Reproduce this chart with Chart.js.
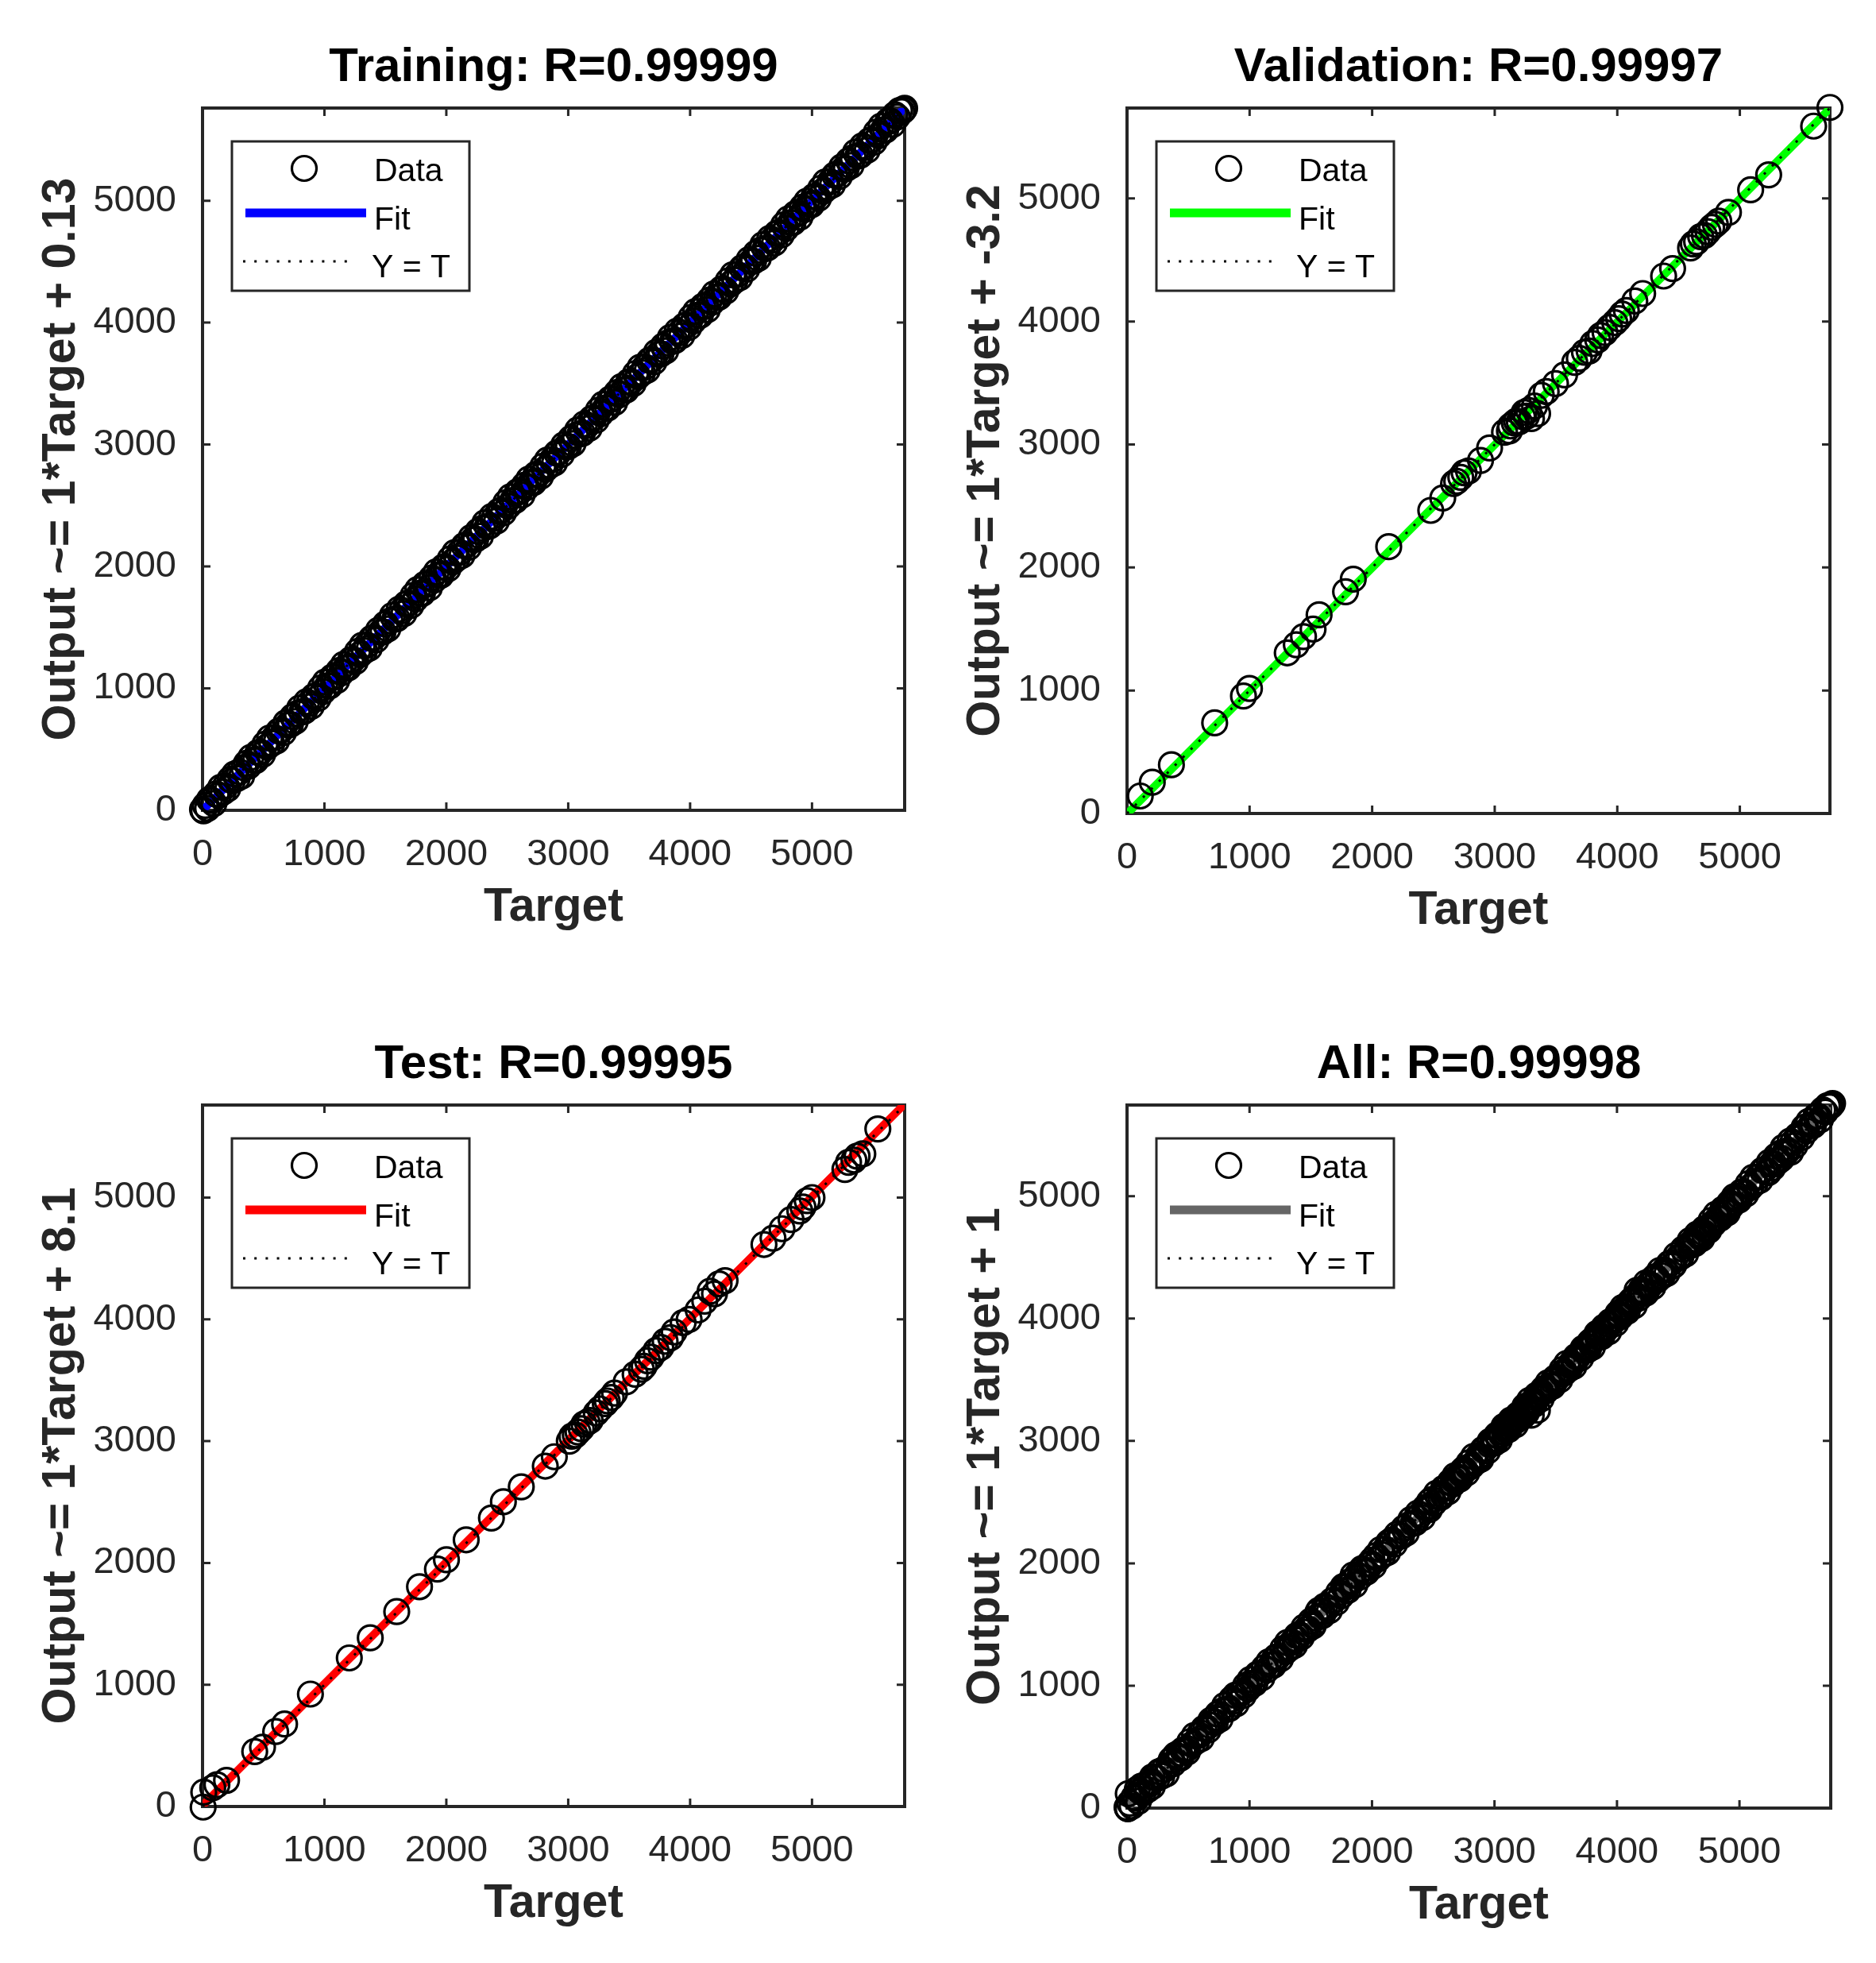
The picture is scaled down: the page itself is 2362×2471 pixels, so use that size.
<!DOCTYPE html>
<html>
<head>
<meta charset="utf-8">
<script src="https://cdn.jsdelivr.net/npm/chart.js@4.4.1/dist/chart.umd.min.js"></script>
<style>
html, body { margin: 0; padding: 0; background: #ffffff; overflow: hidden; width: 2362px; height: 2471px; }
canvas { position: absolute; }
</style>
</head>
<body>
<canvas id="c0"></canvas>
<canvas id="c1"></canvas>
<canvas id="c2"></canvas>
<canvas id="c3"></canvas>
<script>
// ---------------- DATA ----------------
const tickValues = [0, 1000, 2000, 3000, 4000, 5000];
const legendLabels = ['Data', 'Fit', 'Y = T'];
const panelTitles = ['Training: R=0.99999', 'Validation: R=0.99997', 'Test: R=0.99995', 'All: R=0.99998'];
const yAxisTitles = ['Output ~= 1*Target + 0.13', 'Output ~= 1*Target + -3.2', 'Output ~= 1*Target + 8.1', 'Output ~= 1*Target + 1'];
const xAxisTitle = 'Target';
const fitColors = ['#0000ff', '#00ff00', '#ff0000', '#666666'];
const axisMax = [5760, 5735, 5760, 5745];
const fitStartY = [0.13, -3.2, 8.1, 1];
const fitEndY = [5760.13, 5731.8, 5768.1, 5746];

// [target, output] pairs read/
const trainPairs = [
  [0,6],[8,-4],[22,40],[41,16],[57,88],[76,80],[93,56],[112,134],[131,123],[149,189],
  [170,151],[188,199],[207,177],[226,253],[245,242],[263,298],[284,262],[302,316],[321,280],[340,349],
  [360,385],[378,363],[397,435],[418,412],[436,408],[455,474],[474,476],[493,459],[512,542],[531,520],
  [550,593],[569,549],[589,596],[607,569],[626,650],[645,658],[664,638],[684,717],[702,701],[721,704],
  [740,768],[760,728],[778,794],[797,838],[816,807],[836,813],[854,890],[873,876],[892,853],[912,933],
  [930,940],[949,920],[968,1002],[988,974],[1006,1051],[1025,1020],[1044,1020],[1064,1093],[1082,1094],[1101,1065],
  [1120,1146],[1140,1128],[1158,1196],[1177,1171],[1196,1168],[1216,1235],[1234,1236],[1253,1219],[1272,1302],[1292,1278],
  [1310,1353],[1329,1309],[1348,1355],[1368,1330],[1386,1410],[1405,1418],[1424,1398],[1444,1477],[1462,1461],[1481,1464],
  [1500,1528],[1520,1488],[1538,1554],[1557,1598],[1576,1567],[1596,1573],[1614,1650],[1633,1636],[1652,1613],[1672,1693],
  [1690,1700],[1709,1680],[1728,1762],[1748,1734],[1766,1811],[1785,1780],[1804,1780],[1824,1853],[1842,1854],[1861,1825],
  [1880,1906],[1900,1888],[1918,1956],[1937,1931],[1956,1928],[1976,1995],[1994,1996],[2013,1979],[2032,2062],[2052,2038],
  [2070,2113],[2089,2069],[2108,2115],[2128,2090],[2146,2170],[2165,2178],[2184,2158],[2204,2237],[2222,2221],[2241,2224],
  [2260,2288],[2280,2248],[2298,2314],[2317,2358],[2336,2327],[2356,2333],[2374,2410],[2393,2396],[2412,2373],[2432,2453],
  [2450,2460],[2469,2440],[2488,2522],[2508,2494],[2526,2571],[2545,2540],[2564,2540],[2584,2613],[2602,2614],[2621,2585],
  [2640,2666],[2660,2648],[2678,2716],[2697,2691],[2716,2688],[2736,2755],[2754,2756],[2773,2739],[2792,2822],[2812,2798],
  [2830,2873],[2849,2829],[2868,2875],[2888,2850],[2906,2930],[2925,2938],[2944,2918],[2964,2997],[2982,2981],[3001,2984],
  [3020,3048],[3040,3008],[3058,3074],[3077,3118],[3096,3087],[3116,3093],[3134,3170],[3153,3156],[3172,3133],[3192,3213],
  [3210,3220],[3229,3200],[3248,3282],[3268,3254],[3286,3331],[3305,3300],[3324,3300],[3344,3373],[3362,3374],[3381,3345],
  [3400,3426],[3420,3408],[3438,3476],[3457,3451],[3476,3448],[3496,3515],[3514,3516],[3533,3499],[3552,3582],[3572,3558],
  [3590,3633],[3609,3589],[3628,3635],[3648,3610],[3666,3690],[3685,3698],[3704,3678],[3724,3757],[3742,3741],[3761,3744],
  [3780,3808],[3800,3768],[3818,3834],[3837,3878],[3856,3847],[3876,3853],[3894,3930],[3913,3916],[3932,3893],[3952,3973],
  [3970,3980],[3989,3960],[4008,4042],[4028,4014],[4046,4091],[4065,4060],[4084,4060],[4104,4133],[4122,4134],[4141,4105],
  [4160,4186],[4180,4168],[4198,4236],[4217,4211],[4236,4208],[4256,4275],[4274,4276],[4293,4259],[4312,4342],[4332,4318],
  [4350,4393],[4369,4349],[4388,4395],[4408,4370],[4426,4450],[4445,4458],[4464,4438],[4484,4517],[4502,4501],[4521,4504],
  [4540,4568],[4560,4528],[4578,4594],[4597,4638],[4616,4607],[4636,4613],[4654,4690],[4673,4676],[4692,4653],[4712,4733],
  [4730,4740],[4749,4720],[4768,4802],[4788,4774],[4806,4851],[4825,4820],[4844,4820],[4864,4893],[4882,4894],[4901,4865],
  [4920,4946],[4940,4928],[4958,4996],[4977,4971],[4996,4968],[5016,5035],[5034,5036],[5053,5019],[5072,5102],[5092,5078],
  [5110,5153],[5129,5109],[5148,5155],[5168,5130],[5186,5210],[5205,5218],[5224,5198],[5244,5277],[5262,5261],[5281,5264],
  [5300,5328],[5320,5288],[5338,5354],[5357,5398],[5376,5367],[5396,5373],[5414,5450],[5433,5436],[5452,5413],[5472,5493],
  [5490,5500],[5509,5480],[5528,5562],[5548,5534],[5566,5611],[5585,5580],[5604,5580],[5624,5653],[5642,5654],[5661,5625],
  [5680,5706],[5700,5688],[5718,5740],[5737,5731],[5752,5745],[5760,5758]
];

const valPairs = [
  [108,142],[206,254],[362,396],[715,737],[950,955],[999,1016],[1307,1306],[1381,1372],[1440,1438],[1518,1499],
  [1567,1615],[1783,1803],[1846,1905],[2135,2169],[2478,2464],[2576,2565],[2664,2682],[2690,2700],[2723,2733],[2750,2770],
  [2786,2784],[2884,2870],[2958,2972],[3080,3099],[3120,3110],[3129,3150],[3160,3175],[3178,3190],[3200,3185],[3227,3226],
  [3240,3260],[3260,3230],[3276,3277],[3325,3312],[3350,3251],[3300,3211],[3380,3400],[3420,3430],[3496,3495],[3570,3566],
  [3653,3668],[3690,3700],[3732,3749],[3770,3760],[3800,3820],[3840,3850],[3864,3886],[3900,3910],[3937,3952],[3980,3990],
  [4011,4023],[4040,4060],[4074,4089],[4143,4166],[4207,4227],[4378,4369],[4451,4430],[4598,4597],[4620,4630],[4647,4648],
  [4680,4690],[4711,4699],[4740,4730],[4770,4765],[4800,4790],[4828,4816],[4907,4887],[5088,5070],[5235,5192],[5602,5588],
  [5735,5740]
];

const testPairs = [
  [5,-5],[10,118],[84,154],[118,179],[197,215],[428,451],[492,487],[600,615],[673,677],[885,923],
  [1204,1220],[1376,1385],[1593,1600],[1780,1805],[1927,1949],[2001,2026],[2163,2190],[2370,2369],[2468,2502],[2615,2625],
  [2812,2795],[2886,2872],[3009,3000],[3030,3040],[3058,3051],[3080,3075],[3107,3102],[3130,3140],[3156,3154],[3180,3170],
  [3230,3231],[3260,3265],[3304,3308],[3320,3330],[3353,3359],[3380,3395],[3476,3487],[3549,3549],[3600,3590],[3623,3615],
  [3650,3660],[3680,3690],[3721,3743],[3760,3770],[3795,3820],[3840,3850],[3869,3897],[3943,3974],[3992,4000],[4066,4077],
  [4120,4150],[4164,4231],[4200,4210],[4238,4292],[4287,4318],[4606,4615],[4680,4667],[4754,4744],[4828,4820],[4900,4890],
  [4926,4923],[4960,4975],[5000,5000],[5270,5231],[5300,5290],[5344,5308],[5370,5340],[5417,5359],[5540,5564]
];

const allPairs = trainPairs.concat(valPairs, testPairs);
const panelPairs = [trainPairs, valPairs, testPairs, allPairs];

// ---------------- LAYOUT ----------------
const FONT = '"Liberation Sans", Arial, Helvetica, sans-serif';
const AXIS_COLOR = '#262626';
const Y_AXIS_W = 255, TOP_H = 136, X_AXIS_H = 216, RIGHT_PAD = 45;
const areas = [
  { l: 255, t: 136, r: 1139, b: 1020 },
  { l: 1419, t: 136, r: 2304, b: 1024 },
  { l: 255, t: 1391, r: 1139, b: 2274 },
  { l: 1419, t: 1391, r: 2305, b: 2276 }
];

function makeFramePlugin(idx) {
  return {
    id: 'matlabFrame' + idx,
    beforeDatasetsDraw(chart) {
      const { ctx, chartArea: a, scales: { x, y } } = chart;
      ctx.save();
      ctx.strokeStyle = AXIS_COLOR;
      ctx.lineWidth = 3;
      ctx.beginPath();
      for (const v of tickValues) {
        const px = x.getPixelForValue(v);
        ctx.moveTo(px, a.bottom); ctx.lineTo(px, a.bottom - 10);
        ctx.moveTo(px, a.top); ctx.lineTo(px, a.top + 10);
        const py = y.getPixelForValue(v);
        ctx.moveTo(a.left, py); ctx.lineTo(a.left + 10, py);
        ctx.moveTo(a.right, py); ctx.lineTo(a.right - 10, py);
      }
      ctx.stroke();
      ctx.lineWidth = 4;
      ctx.strokeRect(a.left, a.top, a.right - a.left, a.bottom - a.top);
      ctx.restore();
    },
    afterDatasetsDraw(chart) {
      const { ctx, chartArea: a } = chart;
      const lx = a.left + 37, ly = a.top + 42, lw = 299, lh = 188;
      ctx.save();
      ctx.fillStyle = '#ffffff';
      ctx.fillRect(lx, ly, lw, lh);
      ctx.lineWidth = 3;
      ctx.strokeStyle = AXIS_COLOR;
      ctx.strokeRect(lx, ly, lw, lh);
      // Data marker
      ctx.beginPath();
      ctx.arc(lx + 91, ly + 34, 15.5, 0, Math.PI * 2);
      ctx.strokeStyle = '#000000';
      ctx.lineWidth = 3.2;
      ctx.stroke();
      // Fit swatch
      ctx.beginPath();
      ctx.moveTo(lx + 17, ly + 90);
      ctx.lineTo(lx + 169, ly + 90);
      ctx.strokeStyle = fitColors[idx];
      ctx.lineWidth = 11;
      ctx.stroke();
      // Y = T swatch
      ctx.beginPath();
      ctx.setLineDash([3, 11.2]);
      ctx.moveTo(lx + 14, ly + 151);
      ctx.lineTo(lx + 156, ly + 151);
      ctx.strokeStyle = '#000000';
      ctx.lineWidth = 3;
      ctx.stroke();
      ctx.setLineDash([]);
      // Texts
      ctx.fillStyle = '#000000';
      ctx.font = '41px ' + FONT;
      ctx.textAlign = 'left';
      ctx.textBaseline = 'alphabetic';
      ctx.fillText(legendLabels[0], lx + 179, ly + 50);
      ctx.fillText(legendLabels[1], lx + 179, ly + 111);
      ctx.fillText(legendLabels[2], lx + 176, ly + 171);
      ctx.restore();
    }
  };
}

areas.forEach((a, i) => {
  const cLeft = a.l - Y_AXIS_W;
  const cTop = a.t - TOP_H;
  const cW = a.r - cLeft + RIGHT_PAD;
  const cH = a.b - cTop + X_AXIS_H;
  const canvas = document.getElementById('c' + i);
  canvas.width = cW; canvas.height = cH;
  canvas.style.left = cLeft + 'px'; canvas.style.top = cTop + 'px';
  canvas.style.width = cW + 'px'; canvas.style.height = cH + 'px';

  const points = panelPairs[i].map(p => ({ x: p[0], y: p[1] }));
  const maxV = axisMax[i];

  new Chart(canvas, {
    type: 'scatter',
    data: {
      datasets: [
        {
          label: legendLabels[0], data: points, showLine: false, clip: false,
          pointStyle: 'circle', pointRadius: 15.5, pointHoverRadius: 15.5,
          pointBorderWidth: 3.2, pointBorderColor: '#000000',
          pointBackgroundColor: 'rgba(0,0,0,0)', order: 0
        },
        {
          label: legendLabels[2], data: [{ x: 0, y: 0 }, { x: maxV, y: maxV }],
          showLine: true, borderColor: '#000000', borderWidth: 3, borderDash: [3, 11.2],
          pointRadius: 0, order: 1
        },
        {
          label: legendLabels[1], data: [{ x: 0, y: fitStartY[i] }, { x: maxV, y: fitEndY[i] }],
          showLine: true, borderColor: fitColors[i], borderWidth: 10,
          pointRadius: 0, order: 2
        }
      ]
    },
    options: {
      responsive: false, animation: false, devicePixelRatio: 1,
      events: [],
      layout: { padding: { left: 0, top: 0, right: RIGHT_PAD, bottom: 0 } },
      plugins: {
        legend: { display: false },
        tooltip: { enabled: false },
        title: {
          display: true, text: panelTitles[i], fullSize: false, color: '#000000',
          font: { family: FONT, size: 60, weight: 'bold', lineHeight: 1.2 },
          padding: { top: 49, bottom: 15 }
        }
      },
      scales: {
        x: {
          type: 'linear', min: 0, max: maxV, bounds: 'data',
          grid: { display: false }, border: { display: false },
          ticks: {
            font: { family: FONT, size: 47, lineHeight: 1.2 }, color: AXIS_COLOR, padding: 19.8,
            maxRotation: 0, autoSkip: false, callback: v => String(v)
          },
          title: {
            display: true, text: xAxisTitle, color: AXIS_COLOR,
            font: { family: FONT, size: 59, weight: 'bold', lineHeight: 1.2 },
            padding: { top: 0, bottom: 58 }
          },
          afterBuildTicks: s => { s.ticks = tickValues.map(v => ({ value: v })); },
          afterFit: s => { s.height = X_AXIS_H; s.paddingLeft = 0; s.paddingRight = 0; }
        },
        y: {
          type: 'linear', min: 0, max: maxV, bounds: 'data',
          grid: { display: false }, border: { display: false },
          ticks: {
            font: { family: FONT, size: 47, lineHeight: 1.2 }, color: AXIS_COLOR, padding: 25,
            autoSkip: false, callback: v => String(v)
          },
          title: {
            display: true, text: yAxisTitles[i], color: AXIS_COLOR,
            font: { family: FONT, size: 59, weight: 'bold', lineHeight: 1.2 },
            padding: { top: 42.6, bottom: 0 }
          },
          afterBuildTicks: s => { s.ticks = tickValues.map(v => ({ value: v })); },
          afterFit: s => { s.width = Y_AXIS_W; s.paddingTop = 0; s.paddingBottom = 0; }
        }
      }
    },
    plugins: [makeFramePlugin(i)]
  });
});
</script>
</body>
</html>
